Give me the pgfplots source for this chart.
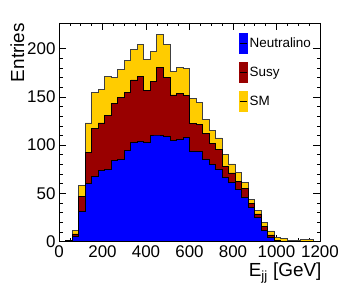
\documentclass[border=0pt]{standalone}
\usepackage{fontspec}
\setmainfont{Liberation Sans}
\usepackage{pgfplots}
\pgfplotsset{compat=1.18}
\definecolor{neut}{HTML}{0000FF}
\definecolor{susy}{HTML}{990000}
\definecolor{smc}{HTML}{FFCC00}
\begin{document}
\begin{tikzpicture}
\useasboundingbox (-59bp,-53.3bp) rectangle (290bp,241.7bp);
\begin{axis}[
  name=ax,
  scale only axis, width=261bp, height=218.7bp,
  xmin=0, xmax=1200, ymin=0, ymax=226.5,
  xtick={0,200,...,1200}, minor x tick num=3,
  ytick={0,50,...,200}, minor y tick num=4,
  tick align=inside, major tick length=7bp, minor tick length=3.5bp,
  tick style={black, line width=0.6bp},
  axis line style={line width=0.8bp},
  /pgf/number format/assume math mode=true,
  /pgf/number format/set thousands separator={},
  ticklabel style={font=\fontsize{17}{17}\selectfont},
  xlabel={E\textsubscript{jj} [GeV]},
  ylabel={Entries},
  xlabel style={at={(rel axis cs:1,0)}, anchor=base east, inner sep=0pt, yshift=-35bp, xshift=1.7bp, font=\fontsize{19}{19}\selectfont},
  ylabel style={at={(rel axis cs:-0.134,1)}, anchor=base east, inner sep=0pt, font=\fontsize{19}{19}\selectfont},
  legend style={draw=none, fill=none, at={(rel axis cs:0.691,0.953)}, anchor=north west,
    inner sep=0pt, outer sep=0pt, row sep=8bp, column sep=1bp,
    font=\fontsize{13.5}{14}\selectfont, nodes={inner sep=1bp}},
  legend cell align=left,
  reverse legend,
]
\addplot[const plot mark left, fill=smc, draw=black!75, line width=0.8bp,
  legend image code/.code={\fill[smc] (0bp,-10bp) rectangle (7.5bp,10bp); \draw[black,line width=0.8bp] (0bp,0bp) -- (7.5bp,0bp);}]
coordinates {
(0,0) (30,1.5) (60,12) (90,58) (120,123) (150,155) (180,158) (210,171) (240,170) (270,178)
(300,188) (330,199) (360,204.5) (390,189) (420,197.5) (450,215) (480,204.5) (510,176.5) (540,180) (570,179)
(600,148.5) (630,144) (660,126.5) (690,115) (720,107.5) (750,90) (780,80.5) (810,71.7) (840,61.5) (870,44)
(900,32.3) (930,20.1) (960,11.1) (990,4.5) (1020,3) (1050,1) (1080,1) (1110,2) (1140,2) (1170,0) (1200,0)
} \closedcycle;
\addlegendentry{SM}
\addplot[const plot mark left, fill=susy, draw=black, line width=0.8bp,
  legend image code/.code={\fill[susy] (0bp,-10bp) rectangle (7.5bp,10bp); \draw[black,line width=0.8bp] (0bp,0bp) -- (7.5bp,0bp);}]
coordinates {
(0,0) (30,1) (60,8) (90,47) (120,92) (150,117) (180,123) (210,130.5) (240,143) (270,149)
(300,155) (330,167.5) (360,171.5) (390,156.5) (420,165.5) (450,180.5) (480,170.5) (510,152) (540,153.5) (570,151.5)
(600,122.7) (630,121) (660,112.3) (690,102) (720,96) (750,78) (780,71.2) (810,62.7) (840,55.3) (870,39.8)
(900,28.7) (930,15.5) (960,7) (990,1) (1020,0.5) (1050,0) (1080,0) (1110,0) (1140,0) (1170,0) (1200,0)
} \closedcycle;
\addlegendentry{Susy}
\addplot[const plot mark left, fill=neut, draw=black, line width=0.8bp,
  legend image code/.code={\fill[neut] (0bp,-10bp) rectangle (7.5bp,10bp); \draw[black,line width=0.8bp] (0bp,0bp) -- (7.5bp,0bp);}]
coordinates {
(0,0) (30,0.5) (60,5) (90,31) (120,60.5) (150,67.5) (180,73.5) (210,75) (240,84) (270,85)
(300,94.5) (330,103) (360,103.5) (390,103) (420,110.5) (450,110.5) (480,109) (510,105) (540,106) (570,108)
(600,94) (630,93.5) (660,85.7) (690,80.2) (720,75.3) (750,67) (780,61) (810,54) (840,46) (870,35.7)
(900,25.3) (930,12.1) (960,4.5) (990,0.3) (1020,0) (1050,0) (1080,0) (1110,0) (1140,0) (1170,0) (1200,0)
} \closedcycle;
\addlegendentry{Neutralino}
\end{axis}
\end{tikzpicture}
\end{document}
